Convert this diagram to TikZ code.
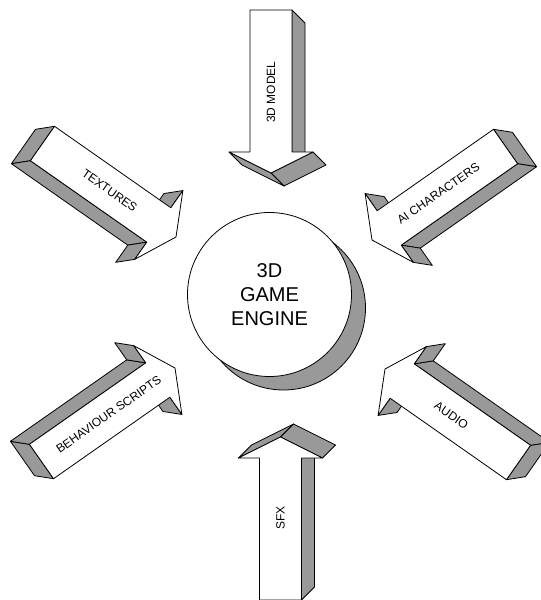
\documentclass[tikz,border=0pt]{standalone}
\usepackage{fontspec}
\setmainfont{Liberation Sans}
\usetikzlibrary{calc}

\tikzset{
  side/.style={fill=black!40, draw=black, line width=0.6pt, line join=round},
  front/.style={fill=white, draw=black, line width=0.6pt, line join=round},
  tag/.style={font=\fontsize{9}{9}\selectfont, inner sep=0pt},
}

% corners of one block arrow: name, tip x, tip y, angle, shift of the back face
\newcommand{\arrowpts}[5]{
  \begin{scope}[shift={(#2,#3)}, rotate=#4]
    \coordinate (#1P)  at (0,0);
    \coordinate (#1Wa) at (-21,-42);
    \coordinate (#1Ja) at (-21,-21);
    \coordinate (#1Ta) at (-163,-21);
    \coordinate (#1Tb) at (-163,21);
    \coordinate (#1Jb) at (-21,21);
    \coordinate (#1Wb) at (-21,42);
    \coordinate (#1L)  at (-81,0);
  \end{scope}
  \foreach \corner in {P,Wa,Ja,Ta,Tb,Jb,Wb}
    \coordinate (#1\corner x) at ($(#1\corner)+(#5)$);
}
\newcommand{\sideface}[3]{\filldraw[side] (#1#2) -- (#1#3) -- (#1#3x) -- (#1#2x) -- cycle;}
\newcommand{\frontface}[1]{\filldraw[front] (#1P) -- (#1Wa) -- (#1Ja) -- (#1Ta) -- (#1Tb) -- (#1Jb) -- (#1Wb) -- cycle;}

\begin{document}
\begin{tikzpicture}[x=0.75pt, y=-0.75pt]
\useasboundingbox (0,0) rectangle (540,600);

% engine in the middle
\node[circle, side, minimum size=123pt, inner sep=0pt] (shadow) at (283.5,308) {};
\node[circle, front, minimum size=123pt, inner sep=0pt, align=center,
      font=\fontsize{15}{18}\selectfont] (engine) at (269.5,294.5) {3D\\GAME\\ENGINE};

% 3d model
\arrowpts{mod}{271}{173}{-90}{13,13}
\sideface{mod}{Ta}{Ja}
\sideface{mod}{Wa}{P}
\sideface{mod}{P}{Wb}
\frontface{mod}
\node[tag, rotate=90] (model) at (modL) {3D MODEL};

% textures
\arrowpts{tex}{176}{237}{-35}{-19,3}
\sideface{tex}{Ta}{Tb}
\sideface{tex}{Tb}{Jb}
\sideface{tex}{Ja}{Wa}
\sideface{tex}{Jb}{Wb}
\frontface{tex}
\node[tag, rotate=-35] (textures) at (texL) {TEXTURES};

% ai characters
\arrowpts{ai}{372}{240}{-145}{19,3}
\sideface{ai}{Ta}{Tb}
\sideface{ai}{Ta}{Ja}
\sideface{ai}{Ja}{Wa}
\sideface{ai}{Jb}{Wb}
\frontface{ai}
\node[tag, rotate=35] (characters) at (aiL) {AI CHARACTERS};

% behaviour scripts
\arrowpts{beh}{175}{368}{35}{-19,-3}
\sideface{beh}{Ta}{Tb}
\sideface{beh}{Ta}{Ja}
\sideface{beh}{Ja}{Wa}
\sideface{beh}{Jb}{Wb}
\frontface{beh}
\node[tag, rotate=35] (scripts) at (behL) {BEHAVIOUR SCRIPTS};

% audio
\arrowpts{aud}{385}{369}{145}{19,-3}
\sideface{aud}{Ta}{Tb}
\sideface{aud}{Tb}{Jb}
\sideface{aud}{Ja}{Wa}
\sideface{aud}{Jb}{Wb}
\frontface{aud}
\node[tag, rotate=-35] (audio) at (audL) {AUDIO};

% sfx
\arrowpts{sfx}{280.5}{437}{90}{13,-13}
\sideface{sfx}{Tb}{Jb}
\sideface{sfx}{Wa}{P}
\sideface{sfx}{P}{Wb}
\frontface{sfx}
\node[tag, rotate=90] (sfxtag) at (sfxL) {SFX};
\end{tikzpicture}
\end{document}
